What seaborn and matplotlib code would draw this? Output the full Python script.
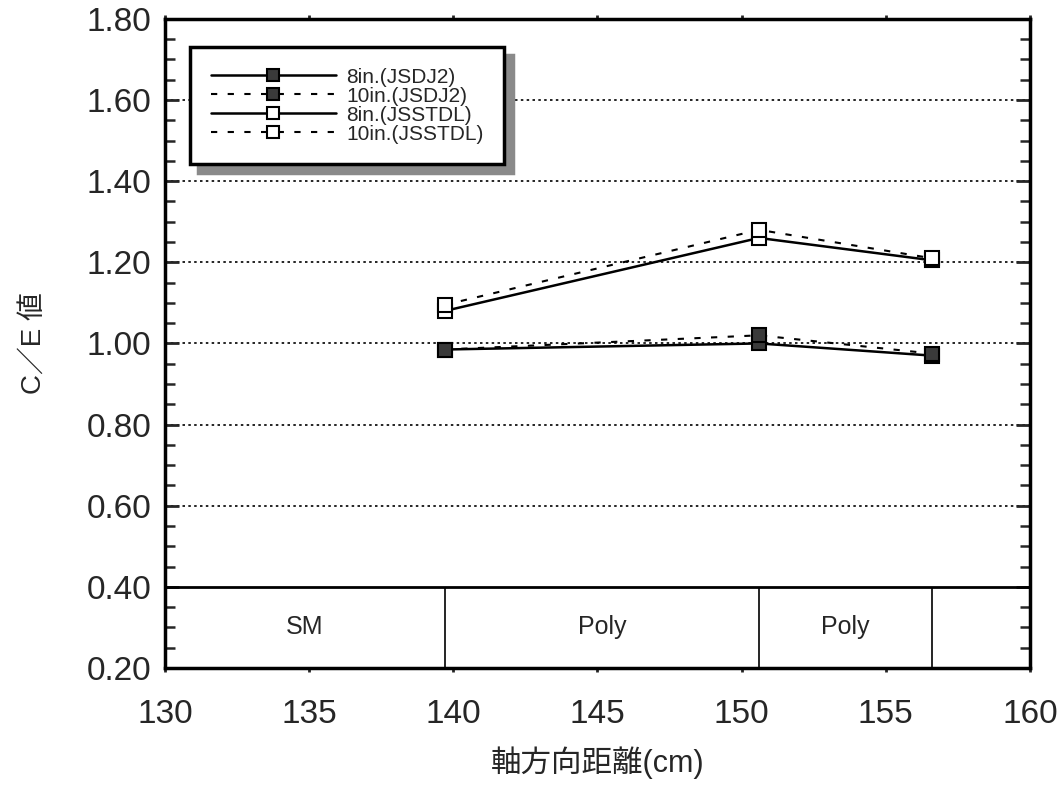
import matplotlib
matplotlib.use("Agg")
import matplotlib.pyplot as plt
import seaborn as sns
import pandas as pd
from matplotlib.ticker import MultipleLocator, FormatStrFormatter

# ---- data ----
x_pos = [139.7, 150.6, 156.6]
jsdj2_8in = [0.985, 1.00, 0.97]
jsdj2_10in = [0.985, 1.02, 0.975]
jsstdl_8in = [1.08, 1.26, 1.205]
jsstdl_10in = [1.095, 1.28, 1.21]
series_labels = ["8in.(JSDJ2)", "10in.(JSDJ2)", "8in.(JSSTDL)", "10in.(JSSTDL)"]

zone_edges = [139.7, 150.6, 156.6]
zone_centers = [134.85, 145.15, 153.6]
zone_labels = ["SM", "Poly", "Poly"]
zone_line_y = 0.40
zone_text_y = 0.30
grid_levels = [0.60, 0.80, 1.00, 1.20, 1.40, 1.60]

sns.set_style("ticks")
plt.rcParams["font.family"] = ["Liberation Sans", "Noto Sans CJK JP"]

fig = plt.figure(figsize=(10.64, 7.85), dpi=100)
ax = fig.add_axes([0.155, 0.149, 0.813, 0.827])

styles = [
    dict(ls="-", lw=1.8, mfc="#3a3a3a", dashes=None),
    dict(ls="--", lw=1.5, mfc="#3a3a3a", dashes=(3, 5)),
    dict(ls="-", lw=1.8, mfc="white", dashes=None),
    dict(ls="--", lw=1.5, mfc="white", dashes=(3, 5)),
]
values = [jsdj2_8in, jsdj2_10in, jsstdl_8in, jsstdl_10in]

for lab, vals, st in zip(series_labels, values, styles):
    df = pd.DataFrame({"x": x_pos, "y": vals})
    sns.lineplot(data=df, x="x", y="y", ax=ax, color="black", lw=st["lw"],
                 marker="s", markersize=10.5, markerfacecolor=st["mfc"],
                 markeredgecolor="black", markeredgewidth=1.5, label=lab,
                 linestyle=st["ls"])
    line = ax.get_lines()[-1]
    if st["dashes"] is not None:
        line.set_dashes(st["dashes"])

# grid lines (dotted)
for g in grid_levels:
    ax.axhline(g, color="black", lw=1.2, ls=(0, (1.5, 2)), zorder=0.5)
# zone band
ax.axhline(zone_line_y, color="black", lw=2.0, zorder=1)
for xe in zone_edges:
    ax.vlines(xe, 0.20, zone_line_y, color="black", lw=1.2)
for xc, zl in zip(zone_centers, zone_labels):
    ax.text(xc, zone_text_y, zl, ha="center", va="center", fontsize=18)

ax.set_xlim(130, 160)
ax.set_ylim(0.20, 1.80)
ax.xaxis.set_major_locator(MultipleLocator(5))
ax.yaxis.set_major_locator(MultipleLocator(0.2))
ax.yaxis.set_minor_locator(MultipleLocator(0.05))
ax.yaxis.set_major_formatter(FormatStrFormatter("%.2f"))

ax.tick_params(axis="y", which="major", direction="in", length=10, width=2,
               left=True, right=True, labelsize=24, pad=10)
ax.tick_params(axis="y", which="minor", direction="in", length=7, width=1.8,
               left=True, right=True)
ax.tick_params(axis="x", which="major", direction="out", length=3, width=2,
               top=True, bottom=True, labelsize=24, pad=19)

for sp in ax.spines.values():
    sp.set_linewidth(2.5)
    sp.set_color("black")

ax.set_xlabel("軸方向距離(cm)", fontsize=22, labelpad=12)
ax.set_ylabel("C／E 値", fontsize=20, labelpad=28)

leg = ax.legend(loc="upper left", bbox_to_anchor=(0.029, 0.957), fontsize=15,
                handlelength=6.0, handletextpad=0.5, labelspacing=0.0,
                borderpad=1.0, borderaxespad=0, fancybox=False,
                shadow={"ox": 6, "oy": -6, "color": "#8a8a8a", "alpha": 1},
                frameon=True, markerscale=0.85)
leg.get_frame().set_edgecolor("black")
leg.get_frame().set_linewidth(2.5)

fig.savefig("out.png", dpi=100, facecolor="white")
